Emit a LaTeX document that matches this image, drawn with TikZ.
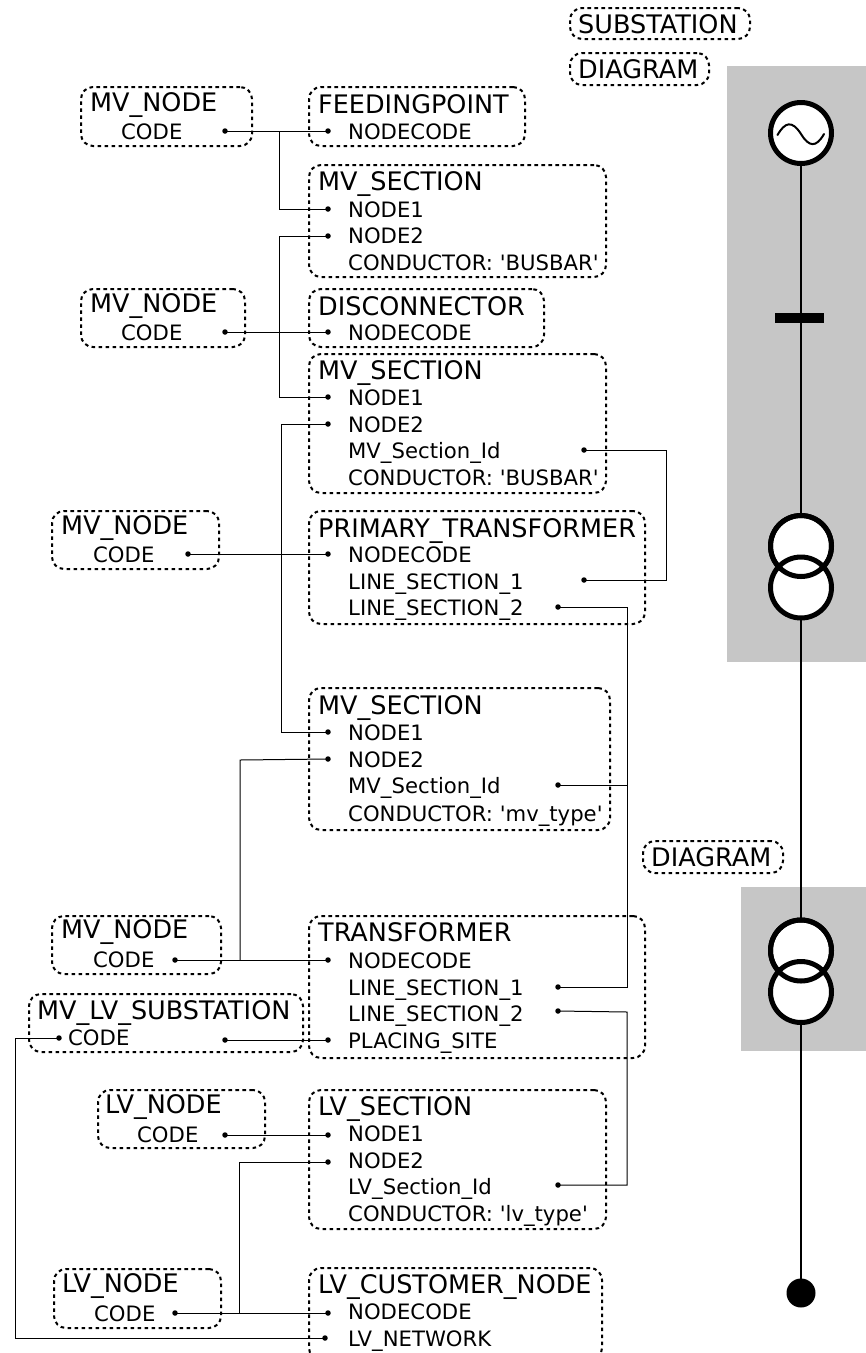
\documentclass[tikz,border=0pt]{standalone}
\usepackage{fontspec}
\setmainfont{DejaVu Sans}[Ligatures=TeXOff]
\tikzset{
  dbox/.style={draw=black,line width=2pt,dash pattern=on 3.6pt off 3.4pt,rounded corners=12pt,inner sep=0pt,outer sep=0pt,anchor=north west},
  ttl/.style={font=\fontsize{25.5pt}{28pt}\selectfont,anchor=base west,inner sep=0pt},
  fld/.style={font=\fontsize{21.2pt}{24pt}\selectfont,anchor=base west,inner sep=0pt},
  pin/.style={circle,fill=black,draw=none,minimum size=5.5pt,inner sep=0pt},
  link/.style={line width=1pt,black},
  panel/.style={fill=black!22.5,draw=none,inner sep=0pt,anchor=north west},
  sym/.style={draw=black,line width=5pt,circle,inner sep=0pt,outer sep=0pt,minimum size=61pt},
  feeder/.style={line width=2.6pt,black}
}
\newcommand{\bx}[5]{\node[dbox,minimum width=#4pt,minimum height=#5pt] (#1) at (#2,#3) {};}
\begin{document}
\begin{tikzpicture}[x=1pt,y=-1pt]
\useasboundingbox (0,0) rectangle (866,1353);
\fill[fill=white] (0,0) rectangle (866,1353);
% grey panels
\node[panel,minimum width=139pt,minimum height=596pt] (panelA) at (727,66) {};
\node[panel,minimum width=125pt,minimum height=164pt] (panelB) at (741,887) {};
% boxes
\bx{bSub}{570}{8}{180}{31}
\bx{bDiagA}{570}{53}{139}{32}
\bx{bDiagB}{643}{841}{140}{32}
\bx{bMvA}{81}{87}{171}{59}
\bx{bFeed}{309}{87}{216}{59}
\bx{bSecA}{309}{165}{297}{112}
\bx{bMvB}{81}{289}{164}{58}
\bx{bDisc}{309}{289}{235}{58}
\bx{bSecB}{309}{354}{297}{139}
\bx{bMvC}{52}{511}{167}{58}
\bx{bPrim}{309}{511}{336}{113}
\bx{bSecC}{309}{688}{301}{142}
\bx{bMvD}{52}{916}{169}{58}
\bx{bTrans}{309}{916}{336}{142}
\bx{bSubst}{29}{994}{274}{58}
\bx{bLvA}{98}{1090}{167}{58}
\bx{bLvSec}{309}{1090}{297}{139}
\bx{bLvB}{54}{1269}{167}{59}
\begin{scope}
\clip (300,1260) rectangle (620,1353);
\bx{bCust}{309}{1268}{293}{92}
\end{scope}
% titles
\node[ttl] (tSub) at (578,33) {SUBSTATION};
\node[ttl] (tDiagA) at (578,78) {DIAGRAM};
\node[ttl] (tDiagB) at (651,866) {DIAGRAM};
\node[ttl] (tMvA) at (90,111) {MV\_NODE};
\node[ttl] (tFeed) at (318,113) {FEEDINGPOINT};
\node[ttl] (tSecA) at (318,190) {MV\_SECTION};
\node[ttl] (tMvB) at (90,312) {MV\_NODE};
\node[ttl] (tDisc) at (318,315) {DISCONNECTOR};
\node[ttl] (tSecB) at (318,379) {MV\_SECTION};
\node[ttl] (tMvC) at (61,534) {MV\_NODE};
\node[ttl] (tPrim) at (318,537) {PRIMARY\_TRANSFORMER};
\node[ttl] (tSecC) at (318,714) {MV\_SECTION};
\node[ttl] (tMvD) at (61,938) {MV\_NODE};
\node[ttl] (tTrans) at (318,941) {TRANSFORMER};
\node[ttl] (tSubst) at (37,1019) {MV\_LV\_SUBSTATION};
\node[ttl] (tLvA) at (105,1113) {LV\_NODE};
\node[ttl] (tLvSec) at (318,1115) {LV\_SECTION};
\node[ttl] (tLvB) at (62,1292) {LV\_NODE};
\node[ttl] (tCust) at (318,1293) {LV\_CUSTOMER\_NODE};
% fields
\node[fld] (fA) at (121,139) {CODE};
\node[fld] (fB) at (348,139) {NODECODE};
\node[fld] (fC) at (348,217) {NODE1};
\node[fld] (fD) at (348,243) {NODE2};
\node[fld] (fE) at (348,270) {CONDUCTOR: 'BUSBAR'};
\node[fld] (fF) at (121,340) {CODE};
\node[fld] (fG) at (348,340) {NODECODE};
\node[fld] (fH) at (348,405) {NODE1};
\node[fld] (fI) at (348,432) {NODE2};
\node[fld] (fJ) at (348,458) {MV\_Section\_Id};
\node[fld] (fK) at (348,485) {CONDUCTOR: 'BUSBAR'};
\node[fld] (fL) at (93,562) {CODE};
\node[fld] (fM) at (348,562) {NODECODE};
\node[fld] (fN) at (348,589) {LINE\_SECTION\_1};
\node[fld] (fO) at (348,615) {LINE\_SECTION\_2};
\node[fld] (fP) at (348,740) {NODE1};
\node[fld] (fQ) at (348,767) {NODE2};
\node[fld] (fR) at (348,793) {MV\_Section\_Id};
\node[fld] (fS) at (348,821) {CONDUCTOR: 'mv\_type'};
\node[fld] (fT) at (93,967) {CODE};
\node[fld] (fU) at (348,968) {NODECODE};
\node[fld] (fV) at (348,995) {LINE\_SECTION\_1};
\node[fld] (fW) at (348,1021) {LINE\_SECTION\_2};
\node[fld] (fX) at (68,1045) {CODE};
\node[fld] (fY) at (348,1048) {PLACING\_SITE};
\node[fld] (fZ) at (137,1142) {CODE};
\node[fld] (gA) at (348,1141) {NODE1};
\node[fld] (gB) at (348,1168) {NODE2};
\node[fld] (gC) at (348,1194) {LV\_Section\_Id};
\node[fld] (gD) at (348,1221) {CONDUCTOR: 'lv\_type'};
\node[fld] (gE) at (94,1321) {CODE};
\node[fld] (gF) at (348,1319) {NODECODE};
\node[fld] (gG) at (348,1346) {LV\_NETWORK};
% pins
\node[pin] (pMvA) at (225,131) {};
\node[pin] (pFeed) at (328,131) {};
\node[pin] (pSecAa) at (328,209) {};
\node[pin] (pSecAb) at (328,236) {};
\node[pin] (pMvB) at (225,332) {};
\node[pin] (pDisc) at (328,332) {};
\node[pin] (pSecBa) at (328,397) {};
\node[pin] (pSecBb) at (328,424) {};
\node[pin] (pSecBi) at (584,450) {};
\node[pin] (pMvC) at (188,554) {};
\node[pin] (pPrimN) at (328,554) {};
\node[pin] (pPrimA) at (584,580) {};
\node[pin] (pPrimB) at (558,607) {};
\node[pin] (pSecCa) at (328,732) {};
\node[pin] (pSecCb) at (328,759) {};
\node[pin] (pSecCi) at (558,785) {};
\node[pin] (pMvD) at (175,960) {};
\node[pin] (pTrN) at (328,960) {};
\node[pin] (pTrA) at (558,987) {};
\node[pin] (pTrB) at (558,1011) {};
\node[pin] (pTrP) at (328,1040) {};
\node[pin] (pSubR) at (225,1040) {};
\node[pin] (pSubL) at (59,1038) {};
\node[pin] (pLvA) at (225,1135) {};
\node[pin] (pLsA) at (328,1135) {};
\node[pin] (pLsB) at (328,1162) {};
\node[pin] (pLsI) at (558,1185) {};
\node[pin] (pLvB) at (175,1313) {};
\node[pin] (pCuN) at (328,1313) {};
\node[pin] (pCuL) at (325,1338) {};
% junctions
\coordinate (jA) at (279,131);
\coordinate (jB) at (279,236);
\coordinate (jC) at (281,424);
\coordinate (jD) at (666,450);
\coordinate (jE) at (627,607);
\coordinate (jF) at (627,785);
\coordinate (jG) at (627,987);
\coordinate (jH) at (240,760);
\coordinate (jI) at (240,960);
\coordinate (jJ) at (627,1012);
\coordinate (jK) at (239,1162);
\coordinate (jL) at (239,1313);
\coordinate (jM) at (15,1038);
% connectors
\draw[link] (pMvA.center) -- (pFeed.center);
\draw[link] (jA) |- (pSecAa.center);
\draw[link] (pMvB.center) -- (pDisc.center);
\draw[link] (pSecAb.center) -- (jB) |- (pSecBa.center);
\draw[link] (pSecBb.center) -- (jC) |- (pSecCa.center);
\draw[link] (pSecBi.center) -- (jD) |- (pPrimA.center);
\draw[link] (pMvC.center) -- (pPrimN.center);
\draw[link] (pPrimB.center) -- (jE) -- (jG) -- (pTrA.center);
\draw[link] (pSecCi.center) -- (jF);
\draw[link] (pSecCb.center) -- (jH) -- (jI);
\draw[link] (pMvD.center) -- (pTrN.center);
\draw[link] (pTrB.center) -- (jJ) |- (pLsI.center);
\draw[link] (pSubR.center) -- (pTrP.center);
\draw[link] (pSubL.center) -- (jM) |- (pCuL.center);
\draw[link] (pLvA.center) -- (pLsA.center);
\draw[link] (pLsB.center) -- (jK) -- (jL);
\draw[link] (pLvB.center) -- (pCuN.center);
% single-line diagram
\node[circle,fill=black,inner sep=0pt,minimum size=29pt] (load) at (801,1293) {};
\coordinate (genC) at (801,133);
\draw[feeder] (genC) -- (load.center);
\node[fill=black,inner sep=0pt,minimum width=49.5pt,minimum height=10.5pt] (disc) at (799.7,318) {};
\node[sym,fill=white] (gen) at (genC) {};
\node[sym,fill=white] (tA1) at (801,546) {};
\node[sym,fill=white] (tA2) at (801,587.5) {};
\node[sym] (tA3) at (801,546) {};
\node[sym,fill=white] (tB1) at (801,950.5) {};
\node[sym,fill=white] (tB2) at (801,992) {};
\node[sym] (tB3) at (801,950.5) {};
\draw[line width=2pt,line cap=round] (777.5,135) .. controls (785,122) and (792,120) .. (801,134) .. controls (809,147) and (816,148) .. (824,134);
\end{tikzpicture}
\end{document}
